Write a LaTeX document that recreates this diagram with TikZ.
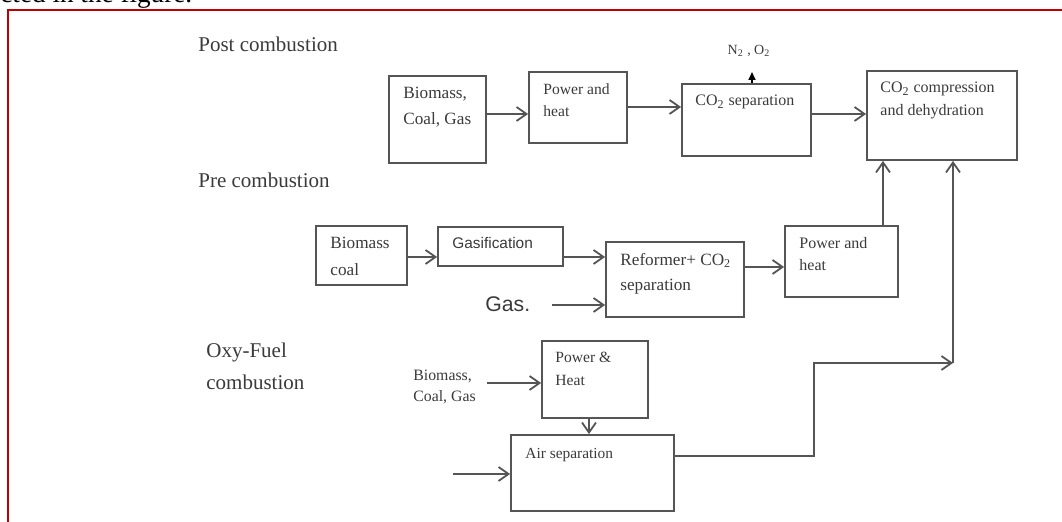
\documentclass[tikz,border=0pt]{standalone}
\usepackage{fontspec}
\setmainfont{Liberation Serif}
\newfontfamily\arialfont{Liberation Sans}
\usetikzlibrary{positioning,arrows.meta,fit,calc}
\definecolor{FrameRed}{HTML}{C00000}
\definecolor{LineGray}{HTML}{555555}
\definecolor{InkGray}{HTML}{3A3A3A}

\begin{document}
\begin{tikzpicture}[
  x=0.5pt, y=-0.5pt,
  box/.style={draw=LineGray,line width=0.9pt,inner sep=0pt,fit={#1}},
  txt/.style={anchor=base west,align=left,inner sep=0pt,text=InkGray,font=\fontsize{8}{11}\selectfont},
  head/.style={anchor=base west,align=left,inner sep=0pt,text=InkGray,font=\fontsize{10.5}{16}\selectfont},
  arrow/.style={-{Straight Barb[length=5pt,width=7pt]},draw=LineGray,line width=0.9pt},
  vent/.style={-{Triangle[length=4pt,width=3.5pt]},draw=black,line width=0.8pt}
]
\useasboundingbox (0,0) rectangle (1062,522);

% page frame and cut-off caption line
\node[anchor=base west,inner sep=0pt,font=\fontsize{13.6}{16}\selectfont] (topline) at (0,3) {cted in the figure.};
\draw[FrameRed,line width=1pt] (8,522) -- (8,10) -- (1062,10);

% section headings (multi-line: anchored on last baseline)
\node[head] (posthead) at (198,52) {Post combustion};
\node[head] (prehead) at (198,188) {Pre combustion};
\node[head] (oxyhead) at (206,390) {Oxy-Fuel\\combustion};

% post combustion
\node[box={(389,76) (486,163)}] (postfuel) {};
\node[box={(529,72) (627,143)}] (postpow) {};
\node[box={(682,84) (811,156)}] (cosep) {};
\node[box={(867,71) (1017,160)}] (comp) {};
\node[txt,font=\fontsize{8.6}{13}\selectfont] (postfuel-t) at (403,125) {Biomass,\\Coal, Gas};
\node[txt,font=\fontsize{7.8}{11}\selectfont] (postpow-t) at (543,117) {Power and\\heat};
\node[txt] (cosep-t) at (695,106) {CO\textsubscript{2} separation};
\node[txt,font=\fontsize{8}{11.5}\selectfont] (comp-t) at (880,116) {CO\textsubscript{2} compression\\and dehydration};
\node[txt,anchor=base,font=\fontsize{7}{8}\selectfont] (vent-t) at (749,55) {N\textsubscript{2} , O\textsubscript{2}};

% pre combustion
\node[box={(316,226) (407,285)}] (prefuel) {};
\node[box={(438,227) (563,266)}] (gasif) {};
\node[box={(606,242) (744,317)}] (reform) {};
\node[box={(785,226) (898,297)}] (prepow) {};
\node[txt,font=\fontsize{8.6}{13.5}\selectfont] (prefuel-t) at (330,276) {Biomass\\coal};
\node[txt,font={\arialfont\fontsize{7.7}{10}\selectfont}] (gasif-t) at (452,249) {Gasification};
\node[txt,font=\fontsize{8.6}{12.5}\selectfont] (reform-t) at (620,291) {Reformer+ CO\textsubscript{2}\\separation};
\node[txt] (prepow-t) at (799,271) {Power and\\heat};
\node[txt,font={\arialfont\fontsize{10.6}{12}\selectfont}] (gas-t) at (485,312) {Gas.};

% oxy-fuel combustion
\node[box={(542,341) (648,418)}] (oxypow) {};
\node[box={(511,435) (674,511)}] (airsep) {};
\node[txt,font=\fontsize{7.9}{10.5}\selectfont] (oxyfuel-t) at (413,402) {Biomass,\\Coal, Gas};
\node[txt,font=\fontsize{7.8}{11.5}\selectfont] (oxypow-t) at (555,386) {Power \&\\Heat};
\node[txt,font=\fontsize{7.7}{10}\selectfont] (airsep-t) at (525,459) {Air separation};

% flows
\draw[arrow] (postfuel.east |- 0,114) -- (postpow.west |- 0,114);
\draw[arrow] (postpow.east |- 0,107) -- (cosep.west |- 0,107);
\draw[arrow] (cosep.east |- 0,114) -- (comp.west |- 0,114);
\coordinate (ventout) at (752,72);
\draw[vent] (cosep.north -| ventout) -- (ventout);

\draw[arrow] (prefuel.east |- 0,257) -- (gasif.west |- 0,257);
\draw[arrow] (gasif.east |- 0,257) -- (reform.west |- 0,257);
\coordinate (gasin) at (552,305);
\draw[arrow] (gasin) -- (reform.west |- gasin);
\draw[arrow] (reform.east |- 0,267) -- (prepow.west |- 0,267);
\draw[arrow] (prepow.north -| 883,0) -- (comp.south -| 883,0);

\coordinate (oxyin) at (487,383);
\draw[arrow] (oxyin) -- (oxypow.west |- oxyin);
\draw[arrow] (oxypow.south -| 589,0) -- (airsep.north -| 589,0);
\coordinate (airin) at (453,474);
\draw[arrow] (airin) -- (airsep.west |- airin);
\coordinate (riser) at (814,456);
\coordinate (elbow) at (953,363);
\draw[arrow] (airsep.east |- riser) -- (riser) |- (elbow);
\draw[arrow] (elbow) -- (comp.south -| elbow);
\end{tikzpicture}
\end{document}
